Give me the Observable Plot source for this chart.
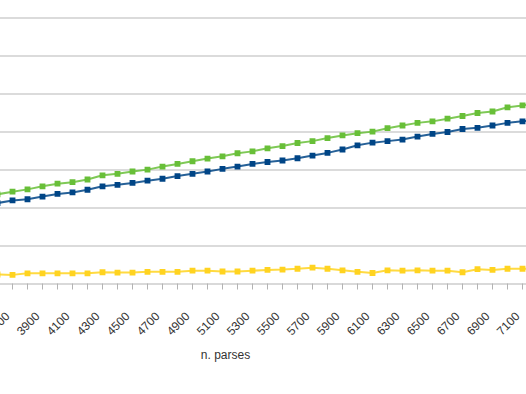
<!DOCTYPE html>
<html>
<head>
<meta charset="utf-8">
<script src="https://cdn.jsdelivr.net/npm/d3@7"></script>
<script src="https://cdn.jsdelivr.net/npm/@observablehq/plot@0.6"></script>
<style>
  html, body { margin: 0; padding: 0; background: #fff; }
  #chart svg { display: block; }
</style>
</head>
<body>
<div id="chart"></div>
<script>
// n. parses (3600 and 7200 lie just outside the visible crop)
const parses = [3600, 3700, 3800, 3900, 4000, 4100, 4200, 4300, 4400, 4500, 4600,
  4700, 4800, 4900, 5000, 5100, 5200, 5300, 5400, 5500, 5600, 5700, 5800, 5900,
  6000, 6100, 6200, 6300, 6400, 6500, 6600, 6700, 6800, 6900, 7000, 7100, 7200];
const greenSeries = [23.6, 24.3, 24.9, 25.7, 26.4, 26.8, 27.5, 28.6, 29.0, 29.6, 30.1,
  30.9, 31.6, 32.3, 33.0, 33.6, 34.4, 34.9, 35.7, 36.3, 37.1, 37.6, 38.4, 39.1,
  39.7, 40.1, 41.0, 41.7, 42.4, 42.8, 43.5, 44.2, 45.0, 45.4, 46.5, 47.0, 47.6];
const blueSeries = [21.3, 22.0, 22.3, 23.0, 23.7, 24.1, 24.8, 25.7, 26.1, 26.6, 27.2,
  27.7, 28.4, 29.0, 29.6, 30.3, 30.9, 31.6, 32.1, 32.5, 33.1, 33.8, 34.5, 35.4,
  36.5, 37.2, 37.6, 38.0, 38.8, 39.5, 40.0, 40.8, 41.1, 41.7, 42.4, 42.8, 43.3];
const yellowSeries = [2.5, 2.4, 2.8, 2.8, 2.8, 2.8, 2.8, 3.1, 3.0, 3.0, 3.2,
  3.2, 3.2, 3.5, 3.5, 3.3, 3.3, 3.5, 3.7, 3.8, 4.0, 4.3, 4.0, 3.6,
  3.2, 2.9, 3.6, 3.5, 3.6, 3.5, 3.5, 3.1, 3.9, 3.7, 4.0, 4.0, 4.1];
const tickValues = [3700, 3800, 3900, 4000, 4100, 4200, 4300, 4400, 4500, 4600,
  4700, 4800, 4900, 5000, 5100, 5200, 5300, 5400, 5500, 5600, 5700, 5800, 5900,
  6000, 6100, 6200, 6300, 6400, 6500, 6600, 6700, 6800, 6900, 7000, 7100];
const tickLabels = [3700, 3900, 4100, 4300, 4500, 4700, 4900, 5100, 5300, 5500,
  5700, 5900, 6100, 6300, 6500, 6700, 6900, 7100];
const gridValues = [10, 20, 30, 40, 50, 60, 70];

const seriesDefs = [
  {name: "yellow", values: yellowSeries, color: "#ffd320"},
  {name: "blue", values: blueSeries, color: "#004586"},
  {name: "green", values: greenSeries, color: "#68bf38"}
];
const rows = seriesDefs.flatMap(s => parses.map((p, i) => ({series: s.name, x: p, y: s.values[i], color: s.color})));

const chart = Plot.plot({
  width: 526,
  height: 394,
  marginLeft: 0,
  marginRight: 0,
  marginTop: 17.5,
  marginBottom: 110.5,
  style: {background: "#fff", fontFamily: "'Liberation Sans', Arial, sans-serif"},
  x: {type: "linear", domain: [3620, 3700 + 514 / 15 * 100], axis: null},
  y: {domain: [0, 70], axis: null},
  marks: [
    Plot.ruleY(gridValues, {stroke: "#b8b8b8", strokeWidth: 1.2}),
    Plot.ruleY([0], {stroke: "#b3b3b3", strokeWidth: 1.2}),
    Plot.axisX({ticks: tickValues, tickFormat: () => "", tickSize: 6, stroke: "#b3b3b3", strokeOpacity: 1, label: null}),
    Plot.line(rows, {x: "x", y: "y", z: "series", stroke: "color", strokeWidth: 2, strokeOpacity: 0.85, clip: true}),
    Plot.dot(rows, {x: "x", y: "y", fill: "color", symbol: "square", r: 3.3, clip: true}),
    Plot.text(tickLabels, {x: d => d, y: 0, text: d => String(d), rotate: -45, textAnchor: "end",
      lineAnchor: "top", dx: -8, dy: 27, fontSize: 12, fill: "#333"}),
    Plot.text(["n. parses"], {frameAnchor: "bottom", lineAnchor: "top", dx: -38, dy: 66, fontSize: 12, fill: "#333"})
  ]
});
document.getElementById("chart").append(chart);
</script>
</body>
</html>
